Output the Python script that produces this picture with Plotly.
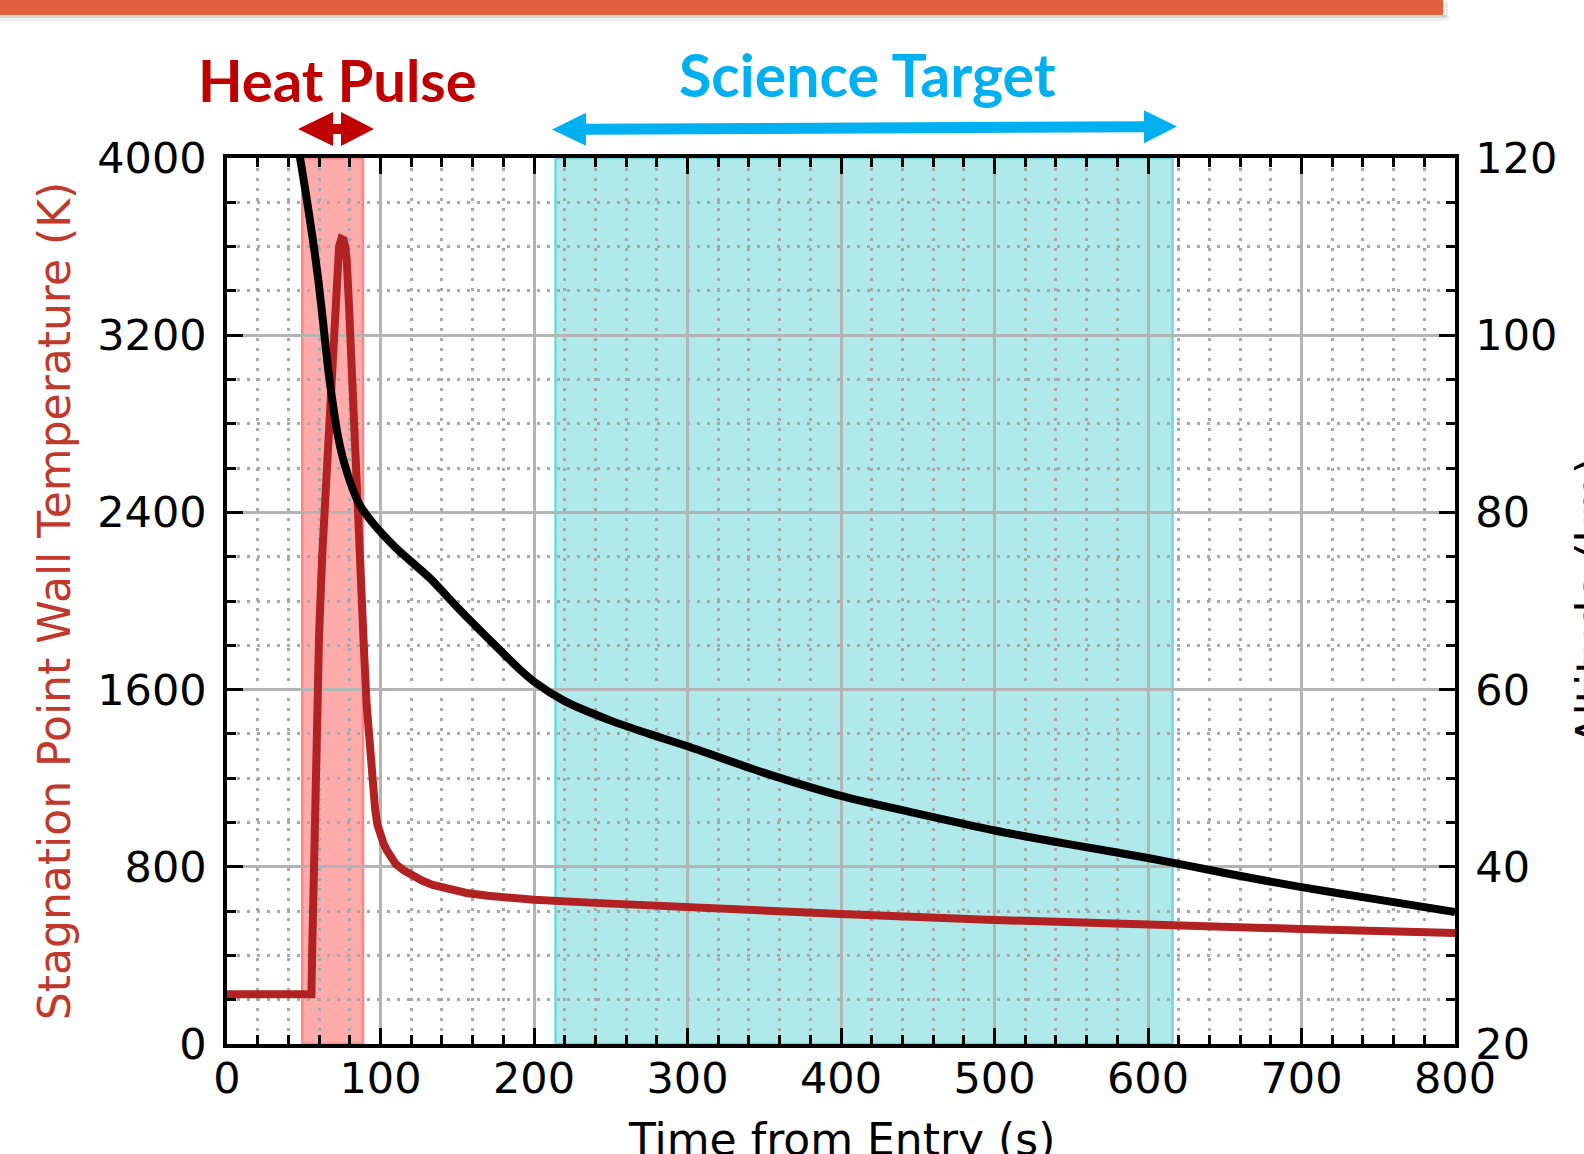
import plotly.graph_objects as go

# ---------------- data ----------------
time_temp = [0, 55, 55.5, 56.5, 58, 60, 62, 64, 66, 68, 70, 71.5, 73, 74.5, 76, 77, 78, 79.5,
             81, 83, 84.5, 86, 87.7, 89.5, 91, 93, 95, 96.5, 98, 100, 102, 104, 107, 110,
             115, 120, 127, 134, 145, 156, 170, 185, 200, 243, 300, 400, 500, 600, 700, 800]
temp_K = [225, 225, 420, 780, 1250, 1850, 2200, 2480, 2740, 3020, 3330, 3500, 3600, 3635,
          3630, 3600, 3540, 3330, 3060, 2820, 2650, 2380, 1975, 1740, 1530, 1320, 1165, 1060,
          990, 940, 905, 876, 840, 812, 785, 762, 738, 718, 697, 682, 669, 659, 651, 636, 617,
          587, 560, 537, 519, 501]

time_alt = [46, 47.6, 51, 56, 59.5, 62.7, 66, 69, 72.5, 78, 86, 95, 110, 132, 150, 170, 190,
            200, 220, 250, 275, 300, 350, 400, 450, 500, 550, 600, 650, 700, 750, 800]
alt_km = [121.8, 120.0, 116.4, 110.7, 106.2, 101.3, 96.0, 92.2, 88.4, 84.6, 81.0, 78.8, 76.0,
          72.6, 69.3, 65.8, 62.4, 60.9, 58.7, 56.5, 55.0, 53.6, 50.6, 48.0, 46.0, 44.1, 42.5,
          41.0, 39.3, 37.7, 36.3, 34.9]

x_range = [0, 800]
temp_range = [0, 4000]
alt_range = [20, 120]
heat_pulse_band = [49, 88.6]
science_band = [214, 616]

x_title = "Time from Entry (s)"
y_title = "Stagnation Point Wall Temperature (K)"
y2_title = "Altitude (km)"
heat_label = "Heat Pulse"
science_label = "Science Target"

# ---------------- layout geometry ----------------
W, H = 1584, 1154
ML, MR, MT, MB = 227, 129, 158, 110
PW = W - ML - MR
PH = H - MT - MB


def px(xp):
    return (xp - ML) / PW


def py(yp):
    return (H - MB - yp) / PH


def double_arrow(x_tip_l, x_base_l, x_base_r, x_tip_r, yc_l, yc_r, head_half, shaft_half):
    # polygon of a double-headed arrow given in page pixels -> paper coords
    def yc(x):
        return yc_l + (yc_r - yc_l) * (x - x_tip_l) / (x_tip_r - x_tip_l)
    pts = [
        (x_tip_l, yc(x_tip_l)),
        (x_base_l, yc(x_base_l) - head_half),
        (x_base_l, yc(x_base_l) - shaft_half),
        (x_base_r, yc(x_base_r) - shaft_half),
        (x_base_r, yc(x_base_r) - head_half),
        (x_tip_r, yc(x_tip_r)),
        (x_base_r, yc(x_base_r) + head_half),
        (x_base_r, yc(x_base_r) + shaft_half),
        (x_base_l, yc(x_base_l) + shaft_half),
        (x_base_l, yc(x_base_l) + head_half),
    ]
    return "M " + " L ".join(f"{px(a):.5f},{py(b):.5f}" for a, b in pts) + " Z"


RED_TEXT = "#C00000"
CYAN_TEXT = "#00B0F0"
TICK_FONT = dict(family="DejaVu Sans", size=43, color="black")
TITLE_FONT = dict(family="DejaVu Sans", size=44, color="black")
GRID = "#B4B4B4"
MINOR_GRID = "#A8A8A8"

fig = go.Figure()
fig.add_trace(go.Scatter(x=time_temp, y=temp_K, mode="lines", yaxis="y",
                         line=dict(color="#B22222", width=8),
                         showlegend=False))
fig.add_trace(go.Scatter(x=time_alt, y=alt_km, mode="lines", yaxis="y2",
                         line=dict(color="black", width=8, shape="spline", smoothing=0.7),
                         showlegend=False))

shapes = [
    dict(type="rect", xref="x", yref="paper", x0=heat_pulse_band[0], x1=heat_pulse_band[1],
         y0=0, y1=1, fillcolor="#FFABAB", line=dict(color="#FF8585", width=2.5), layer="below"),
    dict(type="rect", xref="x", yref="paper", x0=science_band[0], x1=science_band[1],
         y0=0, y1=1, fillcolor="#B0E9E9", line=dict(color="#6FD9DE", width=2.5), layer="below"),
    # slide header bar with soft shadow
    dict(type="rect", xref="paper", yref="paper", x0=px(-5), x1=px(1449), y0=py(15), y1=py(21),
         fillcolor="rgba(0,0,0,0.06)", line=dict(width=0)),
    dict(type="rect", xref="paper", yref="paper", x0=px(-5), x1=px(1446), y0=py(15), y1=py(18),
         fillcolor="rgba(0,0,0,0.10)", line=dict(width=0)),
    dict(type="rect", xref="paper", yref="paper", x0=px(1443), x1=px(1448), y0=py(17), y1=py(2),
         fillcolor="rgba(0,0,0,0.08)", line=dict(width=0)),
    dict(type="rect", xref="paper", yref="paper", x0=px(-5), x1=px(1443), y0=py(15), y1=py(-5),
         fillcolor="#E06040", line=dict(width=0)),
    # double arrows
    dict(type="path", xref="paper", yref="paper",
         path=double_arrow(298, 333, 341, 374, 129, 129, 17, 5),
         fillcolor=RED_TEXT, line=dict(width=0)),
    dict(type="path", xref="paper", yref="paper",
         path=double_arrow(552, 586, 1144, 1177, 129.5, 126.5, 16.5, 5.5),
         fillcolor=CYAN_TEXT, line=dict(width=0)),
]

annotations = [
    dict(text=f"<b>{heat_label}</b>", xref="paper", yref="paper", x=px(337), y=py(79),
         xanchor="center", yanchor="middle", showarrow=False,
         font=dict(family="Lato", size=58, color=RED_TEXT)),
    dict(text=f"<b>{science_label}</b>", xref="paper", yref="paper", x=px(867), y=py(75),
         xanchor="center", yanchor="middle", showarrow=False,
         font=dict(family="Lato", size=59, color=CYAN_TEXT)),
    # x axis title, placed like the reference (descenders run off the page bottom)
    dict(text=x_title, xref="paper", yref="paper", x=0.5, y=py(1112),
         xanchor="center", yanchor="top", showarrow=False, font=TITLE_FONT),
    # right axis title, placed like the reference (mostly beyond the right page edge)
    dict(text=y2_title, xref="paper", yref="paper", x=px(1564), y=py(601),
         xanchor="left", yanchor="middle", textangle=-90, showarrow=False,
         font=TITLE_FONT),
]

fig.update_layout(
    width=W, height=H,
    margin=dict(l=ML, r=MR, t=MT, b=MB, autoexpand=False),
    paper_bgcolor="white", plot_bgcolor="white",
    shapes=shapes, annotations=annotations, showlegend=False,
    xaxis=dict(
        range=x_range, dtick=100, tick0=0,
        showline=True, linecolor="black", linewidth=3.5, mirror="ticks",
        ticks="inside", ticklen=16, tickwidth=3, tickcolor="black",
        tickfont=TICK_FONT, ticklabelstandoff=-6,
        showgrid=True, gridcolor=GRID, gridwidth=2.5, zeroline=False,
        minor=dict(dtick=20, tick0=0, ticks="inside", ticklen=9, tickwidth=2.5,
                   tickcolor="black", showgrid=True, gridcolor=MINOR_GRID,
                   gridwidth=2.5, griddash="3px,7px"),
    ),
    yaxis=dict(
        range=temp_range, dtick=800, tick0=0,
        showline=True, linecolor="black", linewidth=3.5,
        ticks="inside", ticklen=16, tickwidth=3, tickcolor="black",
        tickfont=TICK_FONT, ticklabelstandoff=8,
        showgrid=True, gridcolor=GRID, gridwidth=2.5, zeroline=False,
        minor=dict(dtick=200, tick0=0, ticks="inside", ticklen=9, tickwidth=2.5,
                   tickcolor="black", showgrid=True, gridcolor=MINOR_GRID,
                   gridwidth=2.5, griddash="3px,7px"),
        title=dict(text=y_title, font=dict(family="DejaVu Sans", size=44, color="#C0392B"),
                   standoff=14),
    ),
    yaxis2=dict(
        range=alt_range, dtick=20, tick0=20, overlaying="y", side="right",
        showline=True, linecolor="black", linewidth=3.5,
        ticks="inside", ticklen=16, tickwidth=3, tickcolor="black",
        tickfont=TICK_FONT, ticklabelstandoff=8,
        showgrid=False, zeroline=False,
        minor=dict(dtick=5, tick0=20, ticks="inside", ticklen=9, tickwidth=2.5,
                   tickcolor="black", showgrid=False),
    ),
)

# remove the browser's default 8px body margin so the figure starts at the page corner
fig.write_html("out.html", config={"displayModeBar": False},
               post_script="document.body.style.margin='0px';")
